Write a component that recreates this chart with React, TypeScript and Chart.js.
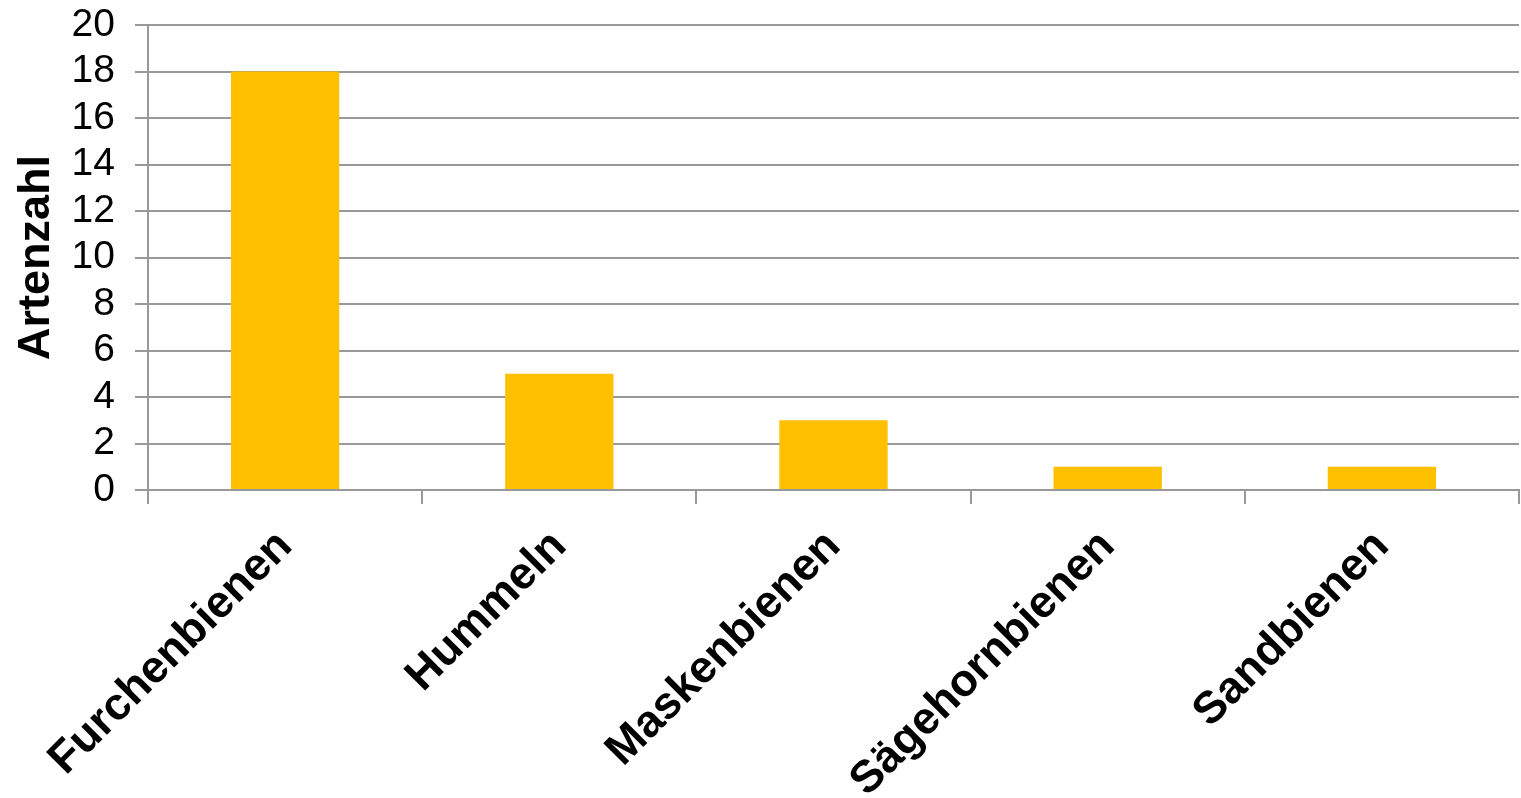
import React, { useEffect, useRef } from "react";
import { Chart, registerables } from "chart.js";

Chart.register(...registerables);

const categories = ["Furchenbienen", "Hummeln", "Maskenbienen", "Sägehornbienen", "Sandbienen"];
const values = [18, 5, 3, 1, 1];
const yTitle = "Artenzahl";
const yMin = 0;
const yMax = 20;
const yStep = 2;

export default function App() {
  const ref = useRef<HTMLCanvasElement>(null);

  useEffect(() => {
    if (!ref.current) return;
    const chart = new Chart(ref.current, {
      type: "bar",
      data: {
        labels: categories,
        datasets: [
          {
            data: values,
            backgroundColor: "#FFC000",
            borderWidth: 0,
            barPercentage: 1,
            categoryPercentage: 0.395,
          },
        ],
      },
      options: {
        responsive: false,
        animation: false,
        maintainAspectRatio: false,
        layout: { padding: { top: 25, right: 2, left: 0, bottom: 0 } },
        plugins: {
          legend: { display: false },
          tooltip: { enabled: false },
        },
        scales: {
          x: {
            grid: {
              drawOnChartArea: false,
              drawTicks: true,
              tickLength: 14,
              color: "#999999",
              lineWidth: 2,
              offset: true,
            },
            border: { color: "#999999", width: 2 },
            ticks: {
              minRotation: 45,
              maxRotation: 45,
              autoSkip: false,
              padding: 16,
              color: "#000000",
              font: { family: "Liberation Sans, Arial, sans-serif", size: 45, weight: "bold" },
            },
            afterFit: (scale: any) => {
              scale.height = 308;
              scale.paddingLeft = 0;
              scale.paddingRight = 0;
            },
          },
          y: {
            min: yMin,
            max: yMax,
            ticks: {
              stepSize: yStep,
              autoSkip: false,
              padding: 20,
              color: "#000000",
              font: { family: "Liberation Sans, Arial, sans-serif", size: 39 },
            },
            grid: {
              color: "#999999",
              lineWidth: 2,
              tickLength: 13,
            },
            border: { color: "#999999", width: 2 },
            title: {
              display: true,
              text: yTitle,
              color: "#000000",
              padding: { top: 10, bottom: 8 },
              font: { family: "Liberation Sans, Arial, sans-serif", size: 45, weight: "bold" },
            },
            afterFit: (scale: any) => {
              scale.width = 148;
              scale.paddingTop = 0;
              scale.paddingBottom = 0;
            },
          },
        },
      },
    });
    return () => chart.destroy();
  }, []);

  return (
    <div style={{ position: "fixed", left: 0, top: 0, width: 1521, height: 798, background: "#fff" }}>
      <canvas ref={ref} width={1521} height={798} style={{ width: 1521, height: 798 }} />
    </div>
  );
}
